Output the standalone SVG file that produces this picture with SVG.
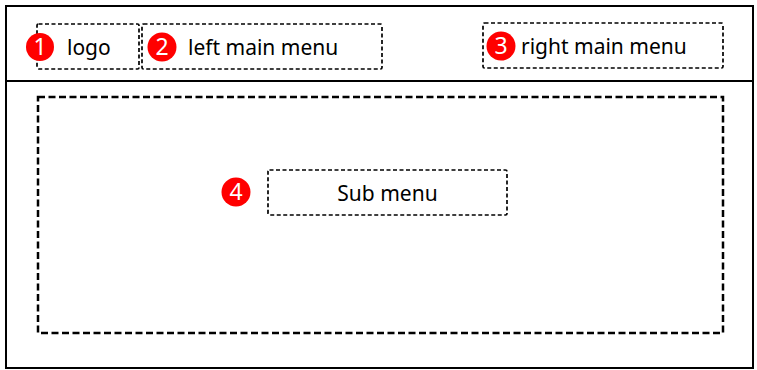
<svg xmlns="http://www.w3.org/2000/svg" width="757" height="370" viewBox="0 0 757 370">
<style>
.frame{fill:#fff;stroke:#000;stroke-width:2}
.sbox{fill:none;stroke:#000;stroke-width:1.7;stroke-dasharray:4 2.5}
.mbox{fill:none;stroke:#000;stroke-width:2.5;stroke-dasharray:7 3.5}
.lbl{font-family:"Noto Sans","Noto Sans CJK KR",sans-serif;font-size:21px;fill:#000}
.badge{fill:#f00}
.num{font-family:"Noto Sans",sans-serif;font-size:23px;fill:#fff;text-anchor:middle}
</style>
<rect width="757" height="370" fill="#fff"/>
<g id="frame">
<rect class="frame" x="6" y="6" width="747" height="362"/>
<line x1="6" y1="81" x2="753" y2="81" stroke="#000" stroke-width="2"/>
</g>
<g id="logo">
<rect class="sbox" x="37" y="24" width="102" height="45" rx="1.5"/>
<text class="lbl" x="67" y="55">logo</text>
</g>
<g id="left-main-menu">
<rect class="sbox" x="142" y="24" width="240" height="45" rx="1.5"/>
<text class="lbl" x="188" y="55">left main menu</text>
</g>
<g id="right-main-menu">
<rect class="sbox" x="483" y="23" width="240" height="45" rx="1.5"/>
<text class="lbl" x="521" y="54">right main menu</text>
</g>
<g id="content-area">
<rect class="mbox" x="38" y="97" width="685" height="236"/>
</g>
<g id="sub-menu">
<rect class="sbox" x="268" y="170" width="239" height="45" rx="1.5"/>
<text class="lbl" x="387.5" y="201" text-anchor="middle">Sub menu</text>
</g>
<g id="badge-1"><circle class="badge" cx="40" cy="47" r="14"/><text class="num" x="40" y="55">1</text></g>
<g id="badge-2"><circle class="badge" cx="162" cy="47" r="14.5"/><text class="num" x="162" y="55">2</text></g>
<g id="badge-3"><circle class="badge" cx="501" cy="46" r="14.5"/><text class="num" x="501" y="54">3</text></g>
<g id="badge-4"><circle class="badge" cx="236" cy="192" r="14.5"/><text class="num" x="236" y="200">4</text></g>
<g id="connectors"/>
</svg>
